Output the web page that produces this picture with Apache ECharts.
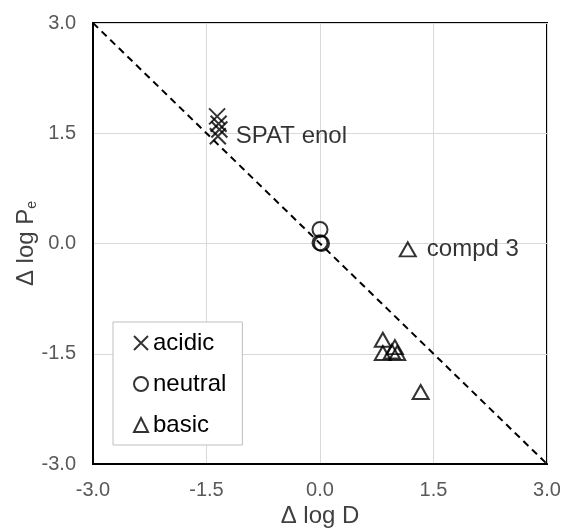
<!DOCTYPE html>
<html>
<head>
<meta charset="utf-8">
<script src="https://cdn.jsdelivr.net/npm/echarts@6/dist/echarts.min.js"></script>
<style>html,body{margin:0;padding:0;background:#fff}#c{width:568px;height:529px}</style>
</head>
<body>
<div id="c"></div>
<script>
// ---- data ----
const axisTicks = [-3.0, -1.5, 0.0, 1.5, 3.0];
const acidicX = [-1.36, -1.34, -1.33, -1.35];
const acidicY = [1.73, 1.63, 1.55, 1.46];
const neutralX = [0.0, 0.0, 0.02];
const neutralY = [0.19, 0.01, 0.0];
const basicX = [0.83, 0.83, 0.99, 1.02, 0.95, 1.33, 1.16];
const basicY = [-1.31, -1.49, -1.41, -1.49, -1.47, -2.02, -0.08];
const identityX = [-3, 3];
const identityY = [3, -3];
const acidicLabelIdx = 3, acidicLabel = 'SPAT enol';
const basicLabelIdx = 6, basicLabel = 'compd 3';

const FONT = 'Liberation Sans, Arial, sans-serif';
const crossPath = 'path://M0,0L10,10M10,0L0,10';

function pts(xs, ys, labelIdx, labelText, dist) {
  return xs.map((x, i) => {
    const p = { value: [x, ys[i]] };
    if (i === labelIdx) {
      p.label = { show: true, position: 'right', distance: dist, formatter: labelText,
        color: '#000', fontSize: 24, fontFamily: FONT };
    }
    return p;
  });
}
const hollow = { color: 'rgba(0,0,0,0)', borderColor: '#000', borderWidth: 2 };

const chart = echarts.init(document.getElementById('c'), null, { renderer: 'canvas' });
chart.setOption({
  animation: false,
  backgroundColor: '#fff',
  grid: { left: 93, right: 21, top: 23, bottom: 65, containLabel: false, outerBoundsMode: 'none',
    show: true, borderColor: '#000', borderWidth: 2, backgroundColor: 'transparent' },
  xAxis: {
    type: 'value', min: axisTicks[0], max: axisTicks[axisTicks.length - 1], interval: 1.5,
    name: 'Δ log D', nameLocation: 'middle', nameGap: 40, nameMoveOverlap: false,
    nameTextStyle: { color: '#404040', fontSize: 24, fontFamily: FONT },
    axisLine: { onZero: false, lineStyle: { color: '#000', width: 2 } },
    axisTick: { show: false },
    axisLabel: { color: '#595959', fontSize: 20, fontFamily: FONT, margin: 16, formatter: v => v.toFixed(1) },
    splitLine: { show: true, lineStyle: { color: '#d9d9d9', width: 1 } }
  },
  yAxis: {
    type: 'value', min: axisTicks[0], max: axisTicks[axisTicks.length - 1], interval: 1.5,
    name: '{a|Δ log P}{s|e}', nameLocation: 'middle', nameGap: 54, nameMoveOverlap: false,
    nameTextStyle: { color: '#404040', fontSize: 24, fontFamily: FONT,
      rich: { a: { fontSize: 24, fontFamily: FONT, color: '#404040' },
              s: { fontSize: 14, fontFamily: FONT, color: '#404040', verticalAlign: 'bottom', padding: [12, 0, 0, 0] } } },
    axisLine: { onZero: false, lineStyle: { color: '#000', width: 2 } },
    axisTick: { show: false },
    axisLabel: { color: '#595959', fontSize: 20, fontFamily: FONT, margin: 17, formatter: v => v.toFixed(1) },
    splitLine: { show: true, lineStyle: { color: '#d9d9d9', width: 1 } }
  },
  legend: {
    data: ['acidic', 'neutral', 'basic'],
    orient: 'vertical', left: 113, top: 322,
    backgroundColor: '#fff', borderColor: '#bfbfbf', borderWidth: 1,
    padding: [9, 16, 8, 20], itemGap: 17, itemWidth: 14, itemHeight: 14, itemTextGap: 4,
    textStyle: { color: '#000', fontSize: 24, fontFamily: FONT }
  },
  series: [
    { type: 'line', name: 'identity', data: identityX.map((x, i) => [x, identityY[i]]), symbol: 'none',
      lineStyle: { color: '#000', width: 2, type: [7, 5] }, z: 1, silent: true },
    { type: 'scatter', name: 'acidic', symbol: crossPath, symbolSize: 16,
      itemStyle: hollow, data: pts(acidicX, acidicY, acidicLabelIdx, acidicLabel, 9), z: 3 },
    { type: 'scatter', name: 'neutral', symbol: 'circle', symbolSize: 15,
      itemStyle: hollow, data: pts(neutralX, neutralY, -1, '', 0), z: 3 },
    { type: 'scatter', name: 'basic', symbol: 'triangle', symbolSize: [16, 14],
      itemStyle: hollow, data: pts(basicX, basicY, basicLabelIdx, basicLabel, 10), z: 3 }
  ]
});
</script>
</body>
</html>
